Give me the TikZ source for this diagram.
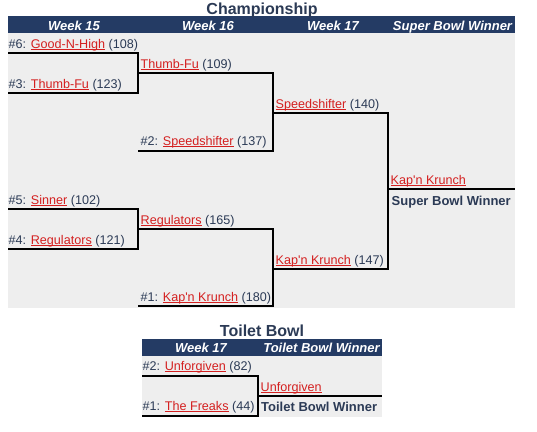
\documentclass[tikz,border=0pt]{standalone}
\usepackage{fontspec}
\setmainfont{Liberation Sans}
\usepackage{tikz}
\usetikzlibrary{calc}
\definecolor{barblue}{HTML}{243B64}
\definecolor{textblue}{HTML}{2B3A55}
\definecolor{linkred}{HTML}{D42020}
\definecolor{panelgray}{HTML}{EEEEEE}
\def\teamname#1{\textcolor{linkred}{\setbox0\hbox{#1}\rlap{\rule[-1.6pt]{\wd0}{0.9pt}}\box0}}

\begin{document}
\begin{tikzpicture}[x=1pt,y=-1pt,
	entry/.style={anchor=base west,inner sep=0pt,text=textblue,font=\fontsize{12.6}{15}\selectfont},
	head/.style={anchor=base,inner sep=0pt,text=white,font=\fontsize{13}{15}\selectfont\bfseries\itshape},
	title/.style={anchor=base,inner sep=0pt,text=textblue,font=\fontsize{16}{19}\selectfont\bfseries},
	winner/.style={anchor=base west,inner sep=0pt,text=textblue,font=\fontsize{13}{15}\selectfont\bfseries},
	bracket/.style={line width=2pt,black}]
	\useasboundingbox (0,0) rectangle (537,431);
	
	%PANELS
	\fill[panelgray] (8,33) rectangle (515,308);
	\fill[barblue] (8,16) rectangle (515,33);
	\fill[panelgray] (142,356) rectangle (382,417);
	\fill[barblue] (142,339) rectangle (382,356);
	
	%TITLES
	\node[title] (champtitle) at (262,14.5) {Championship};
	\node[title] (toilettitle) at (262,336) {Toilet Bowl};
	
	%HEADERS
	\foreach \x/\lab [count=\i] in {74/Week 15,208/Week 16,333/Week 17,452.5/Super Bowl Winner}
		\node[head] (h\i) at (\x,30) {\lab};
	\node[head] (th1) at (201,352) {Week 17};
	\node[head] (th2) at (321.5,352) {Toilet Bowl Winner};
	
	%SLOTS
	\coordinate (r6) at (8,53);
	\coordinate (r3) at (8,93);
	\coordinate (r5) at (8,209);
	\coordinate (r4) at (8,249);
	\coordinate (q3) at (138,72.5);
	\coordinate (q2) at (138,150.5);
	\coordinate (q4) at (138,229);
	\coordinate (q1) at (138,306);
	\coordinate (p2) at (273,113);
	\coordinate (p1) at (273,268.5);
	\coordinate (champ) at (388,189);
	\coordinate (champend) at (515,189);
	%
	\coordinate (u2) at (142,375.7);
	\coordinate (u1) at (142,415.7);
	\coordinate (loser) at (258,395.7);
	\coordinate (loserend) at (382,395.7);
	
	%BRACKETS
	\draw[bracket] (r6) -| (q3) |- (r3);
	\draw[bracket] (r5) -| (q4) |- (r4);
	\draw[bracket] (q3) -| (p2) |- (q2);
	\draw[bracket] (q4) -| (p1) |- (q1);
	\draw[bracket] (p2) -| (champ) |- (p1);
	\draw[bracket] (champ) -- (champend);
	%
	\draw[bracket] (u2) -| (loser) |- (u1);
	\draw[bracket] (loser) -- (loserend);
	
	%ENTRIES
	\node[entry] (e6) at ($(r6)+(0.5,-4.8)$) {\#6: \teamname{Good-N-High} (108)};
	\node[entry] (e3) at ($(r3)+(0.5,-4.8)$) {\#3: \teamname{Thumb-Fu} (123)};
	\node[entry] (e5) at ($(r5)+(0.5,-4.8)$) {\#5: \teamname{Sinner} (102)};
	\node[entry] (e4) at ($(r4)+(0.5,-4.8)$) {\#4: \teamname{Regulators} (121)};
	\node[entry] (f3) at ($(q3)+(2.5,-4.5)$) {\teamname{Thumb-Fu} (109)};
	\node[entry] (f2) at ($(q2)+(2.5,-4.8)$) {\#2: \teamname{Speedshifter} (137)};
	\node[entry] (f4) at ($(q4)+(2.5,-4.5)$) {\teamname{Regulators} (165)};
	\node[entry] (f1) at ($(q1)+(2.5,-4.8)$) {\#1: \teamname{Kap\textquotesingle n Krunch} (180)};
	\node[entry] (g2) at ($(p2)+(2.5,-4.5)$) {\teamname{Speedshifter} (140)};
	\node[entry] (g1) at ($(p1)+(2.5,-4.5)$) {\teamname{Kap\textquotesingle n Krunch} (147)};
	\node[entry] (champname) at ($(champ)+(2.5,-4.5)$) {\teamname{Kap\textquotesingle n Krunch}};
	\node[winner] (champlabel) at ($(champ)+(3.5,16)$) {Super Bowl Winner};
	%
	\node[entry] (t2) at ($(u2)+(0.5,-5)$) {\#2: \teamname{Unforgiven} (82)};
	\node[entry] (t1) at ($(u1)+(0.5,-5)$) {\#1: \teamname{The Freaks} (44)};
	\node[entry] (losername) at ($(loser)+(2.5,-4.5)$) {\teamname{Unforgiven}};
	\node[winner] (loserlabel) at ($(loser)+(3,15.3)$) {Toilet Bowl Winner};
\end{tikzpicture}
\end{document}
